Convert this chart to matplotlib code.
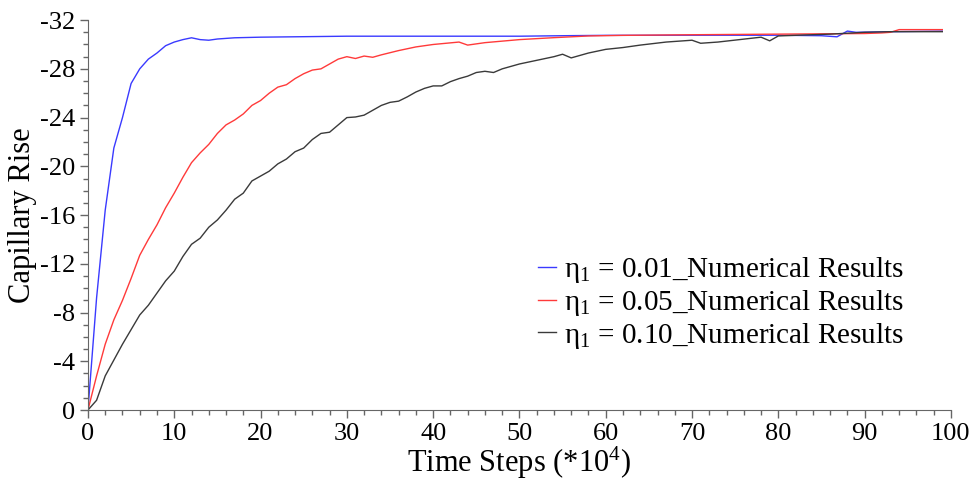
import matplotlib
matplotlib.use('Agg')
import matplotlib.pyplot as plt
from matplotlib.ticker import MultipleLocator

# Time steps (*10^4) and capillary rise readings for each eta_1
t_blue = [0, 1, 2, 3, 4, 5, 6, 7, 8, 9, 10, 11, 12, 13, 14, 15, 17, 20, 30, 50,
          55, 60, 70, 80, 85, 86.8, 88, 89, 93, 99]
h_blue = [0, -9.2, -16.4, -21.5, -24.0, -26.8, -28.0, -28.8, -29.3, -29.9, -30.2,
          -30.4, -30.55, -30.4, -30.35, -30.45, -30.55, -30.6, -30.68, -30.68,
          -30.72, -30.75, -30.76, -30.76, -30.72, -30.63, -31.1, -31.0, -31.05, -31.1]

t_red = [0, 1, 2, 3, 4, 5, 6, 7, 8, 9, 10, 11, 12, 13, 14, 15, 16, 17, 18, 19,
         20, 21, 22, 23, 24, 25, 26, 27, 28, 29, 30, 31, 32, 33, 34, 36, 38, 40,
         43, 44, 46, 50, 54, 58, 62, 70, 80, 90, 92, 93, 94, 99]
h_red = [0, -2.8, -5.4, -7.4, -9.0, -10.8, -12.7, -14.0, -15.2, -16.6, -17.8,
         -19.1, -20.3, -21.1, -21.8, -22.7, -23.4, -23.8, -24.3, -25.0, -25.4,
         -26.0, -26.5, -26.7, -27.2, -27.6, -27.9, -28.0, -28.4, -28.8, -29.0,
         -28.85, -29.05, -28.95, -29.15, -29.5, -29.8, -30.0, -30.2, -29.95,
         -30.15, -30.4, -30.56, -30.7, -30.75, -30.8, -30.85, -30.9, -30.95,
         -31.0, -31.22, -31.22]

t_black = [0, 1, 2, 3, 4, 5, 6, 7, 8, 9, 10, 11, 12, 13, 14, 15, 16, 17, 18, 19,
           20, 21, 22, 23, 24, 25, 26, 27, 28, 29, 30, 31, 32, 33, 34, 35, 36, 37,
           38, 39, 40, 41, 42, 43, 44, 45, 46, 47, 48, 50, 52, 54, 55, 56, 58, 60,
           62, 64, 67, 70, 71, 73, 78, 79, 80, 83, 86, 90, 93, 99]
h_black = [0, -0.8, -2.8, -4.1, -5.4, -6.6, -7.8, -8.6, -9.6, -10.6, -11.4,
           -12.6, -13.6, -14.1, -15.0, -15.6, -16.4, -17.3, -17.8, -18.8, -19.2,
           -19.6, -20.2, -20.6, -21.2, -21.5, -22.2, -22.7, -22.8, -23.4, -24.0,
           -24.05, -24.2, -24.6, -25.0, -25.25, -25.35, -25.7, -26.1, -26.4,
           -26.6, -26.6, -26.95, -27.2, -27.4, -27.7, -27.8, -27.7, -28.0, -28.4,
           -28.7, -29.0, -29.2, -28.9, -29.3, -29.6, -29.75, -29.95, -30.2,
           -30.35, -30.1, -30.2, -30.6, -30.3, -30.7, -30.78, -30.85, -31.0,
           -31.05, -31.05]

labels = [r'η$_1$ = 0.01_Numerical Results',
          r'η$_1$ = 0.05_Numerical Results',
          r'η$_1$ = 0.10_Numerical Results']
colors = ['#3a3aff', '#ff3a3a', '#3a3a3a']

plt.rcParams['font.family'] = ['Liberation Serif', 'DejaVu Serif']
plt.rcParams['mathtext.fontset'] = 'custom'
plt.rcParams['mathtext.rm'] = 'Liberation Serif'
plt.rcParams['mathtext.default'] = 'regular'
plt.rcParams['axes.unicode_minus'] = False

fig = plt.figure(figsize=(9.74, 4.79), dpi=100)
ax = fig.add_axes([0.0903, 0.144, 0.886, 0.814])

ax.plot(t_blue, h_blue, color=colors[0], lw=1.0, label=labels[0])
ax.plot(t_red, h_red, color=colors[1], lw=1.0, label=labels[1])
ax.plot(t_black, h_black, color=colors[2], lw=1.0, label=labels[2])

ax.set_xlim(0, 100)
ax.set_ylim(0, -32)
ax.xaxis.set_major_locator(MultipleLocator(10))
ax.xaxis.set_minor_locator(MultipleLocator(2))
ax.yaxis.set_major_locator(MultipleLocator(4))
ax.yaxis.set_minor_locator(MultipleLocator(1))

for s in ['top', 'right']:
    ax.spines[s].set_visible(False)
for s in ['left', 'bottom']:
    ax.spines[s].set_color('#666666')
ax.tick_params(which='major', length=6, width=1, color='#666666',
               labelsize=19, pad=3)
ax.tick_params(which='minor', length=3.5, width=1, color='#666666')

ax.set_xlabel('Time Steps (*10$^{4}$)', fontsize=22, labelpad=0)
ax.set_ylabel('Capillary Rise', fontsize=22, labelpad=2)

ax.legend(loc='upper left', bbox_to_anchor=(0.508, 0.428), frameon=False,
          fontsize=21, handlelength=0.6, handletextpad=0.3, labelspacing=0.1,
          borderaxespad=0)

fig.savefig('out.png', dpi=100)
